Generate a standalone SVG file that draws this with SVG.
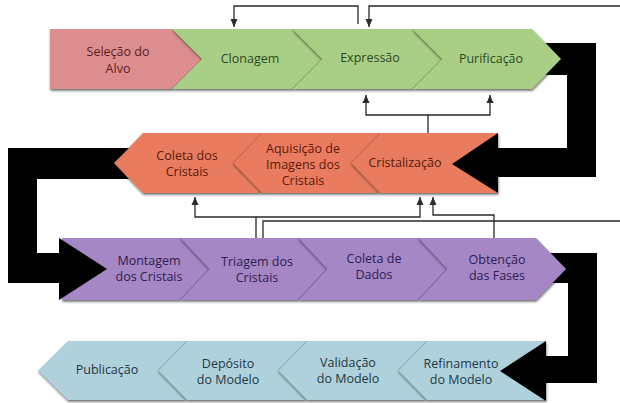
<svg xmlns="http://www.w3.org/2000/svg" width="620" height="403" viewBox="0 0 620 403">
  <defs>
    <filter id="sh" x="-5%" y="-10%" width="110%" height="130%">
      <feDropShadow dx="0.5" dy="1.8" stdDeviation="0.8" flood-color="#333" flood-opacity="0.7"/>
    </filter>
    <marker id="ah" viewBox="0 0 8 8" refX="8" refY="4" markerWidth="8" markerHeight="8" markerUnits="userSpaceOnUse" orient="auto">
      <path d="M0,0.5 L8,4 L0,7.5 z" fill="#2a2a2a"/>
    </marker>
    <style>
      .shape { filter: url(#sh); }
      .pink { fill: #dc8e8e; }
      .green { fill: #a9cf86; }
      .salmon { fill: #e97b5e; }
      .purple { fill: #a587c6; }
      .blue { fill: #aed1dc; }
      .bgreen { fill: none; stroke: #84aa60; stroke-width: 1; }
      .bsalmon { fill: none; stroke: #c8603f; stroke-width: 1; }
      .bpurple { fill: none; stroke: #7b5fa0; stroke-width: 1; }
      .bblue { fill: none; stroke: #84a9b6; stroke-width: 1; }
      text { font-family: "Open Sans", "Liberation Sans", sans-serif; font-size: 12.5px; text-anchor: middle; }
      .tpink { fill: #5e1c1c; }
      .tgreen { fill: #2c4a1c; }
      .tsalmon { fill: #5a1a0e; }
      .tpurple { fill: #2f2050; }
      .tblue { fill: #1f3844; }
      .thin { fill: none; stroke: #2a2a2a; stroke-width: 1.3; }
      .thick { fill: #000; }
    </style>
  </defs>

  <!-- Row 1 -->
  <g id="selecao-do-alvo">
    <polygon class="shape pink" points="50,29 172,29 202,59 172,89 50,89"/>
    <text class="tpink" x="118" y="56">Seleção do<tspan x="118" dy="17">Alvo</tspan></text>
  </g>
  <g id="clonagem">
    <polygon class="shape green" points="172,29 292,29 322,59 292,89 172,89 202,59"/>
    <polyline class="bgreen" points="172,29 202,59 172,89"/>
    <text class="tgreen" x="250" y="63">Clonagem</text>
  </g>
  <g id="expressao">
    <polygon class="shape green" points="292,29 412,29 442,59 412,89 292,89 322,59"/>
    <polyline class="bgreen" points="292,29 322,59 292,89"/>
    <text class="tgreen" x="370" y="62">Expressão</text>
  </g>
  <g id="purificacao">
    <polygon class="shape green" points="412,29 532,29 561,59 532,89 412,89 442,59"/>
    <polyline class="bgreen" points="412,29 442,59 412,89"/>
    <text class="tgreen" x="491" y="63">Purificação</text>
  </g>

  <!-- Row 2 -->
  <g id="coleta-dos-cristais">
    <polygon class="shape salmon" points="143,133 262,133 233,163 262,193 143,193 114,163"/>
    <text class="tsalmon" x="187" y="160">Coleta dos<tspan x="187" dy="16">Cristais</tspan></text>
  </g>
  <g id="aquisicao-de-imagens">
    <polygon class="shape salmon" points="262,133 380,133 351,163 380,193 262,193 233,163"/>
    <polyline class="bsalmon" points="262,133 233,163 262,193"/>
    <text class="tsalmon" x="303" y="153">Aquisição de<tspan x="303" dy="16">Imagens dos</tspan><tspan x="303" dy="16">Cristais</tspan></text>
  </g>
  <g id="cristalizacao">
    <polygon class="shape salmon" points="380,133 498,133 498,193 380,193 351,163"/>
    <polyline class="bsalmon" points="380,133 351,163 380,193"/>
    <text class="tsalmon" x="405" y="167">Cristalização</text>
  </g>

  <!-- Row 3 -->
  <g id="montagem-dos-cristais">
    <polygon class="shape purple" points="62,238 180,238 209,269 180,300 62,300"/>
    <text class="tpurple" x="149" y="265">Montagem<tspan x="149" dy="16">dos Cristais</tspan></text>
  </g>
  <g id="triagem-dos-cristais">
    <polygon class="shape purple" points="180,238 298,238 327,269 298,300 180,300 209,269"/>
    <polyline class="bpurple" points="180,238 209,269 180,300"/>
    <text class="tpurple" x="257" y="266">Triagem dos<tspan x="257" dy="16">Cristais</tspan></text>
  </g>
  <g id="coleta-de-dados">
    <polygon class="shape purple" points="298,238 418,238 447,269 418,300 298,300 327,269"/>
    <polyline class="bpurple" points="298,238 327,269 298,300"/>
    <text class="tpurple" x="374" y="263">Coleta de<tspan x="374" dy="16">Dados</tspan></text>
  </g>
  <g id="obtencao-das-fases">
    <polygon class="shape purple" points="418,238 536,238 566,269 536,300 418,300 447,269"/>
    <polyline class="bpurple" points="418,238 447,269 418,300"/>
    <text class="tpurple" x="497" y="264">Obtenção<tspan x="497" dy="16">das Fases</tspan></text>
  </g>

  <!-- Row 4 -->
  <g id="publicacao">
    <polygon class="shape blue" points="68,341 187,341 158,370.5 187,400 68,400 38,370.5"/>
    <text class="tblue" x="107" y="374">Publicação</text>
  </g>
  <g id="deposito-do-modelo">
    <polygon class="shape blue" points="187,341 307,341 278,370.5 307,400 187,400 158,370.5"/>
    <polyline class="bblue" points="187,341 158,370.5 187,400"/>
    <text class="tblue" x="228" y="368">Depósito<tspan x="228" dy="16">do Modelo</tspan></text>
  </g>
  <g id="validacao-do-modelo">
    <polygon class="shape blue" points="307,341 427,341 398,370.5 427,400 307,400 278,370.5"/>
    <polyline class="bblue" points="307,341 278,370.5 307,400"/>
    <text class="tblue" x="348" y="367">Validação<tspan x="348" dy="16">do Modelo</tspan></text>
  </g>
  <g id="refinamento-do-modelo">
    <polygon class="shape blue" points="427,341 546,341 546,400 427,400 398,370.5"/>
    <polyline class="bblue" points="427,341 398,370.5 427,400"/>
    <text class="tblue" x="461" y="368">Refinamento<tspan x="461" dy="16">do Modelo</tspan></text>
  </g>

  <!-- Connectors -->
  <g id="connectors">
    <!-- thick flow arrows -->
    <polygon class="thick" points="545.5,43 596,43 596,177 498,177 498,148 567,148 567,75 545.5,75 561,59"/>
    <polygon class="thick" points="498,133 498,193 452,164"/>
    <polygon class="thick" points="129,148 8,148 8,283 59,283 59,253 37,253 37,179 129,179 114,163"/>
    <polygon class="thick" points="59,238 59,300 107,269"/>
    <polygon class="thick" points="550.5,253 597,253 597,383 546,383 546,356 568,356 568,283 552.5,283 566,269"/>
    <polygon class="thick" points="546,341 546,401 500,371"/>

    <!-- thin feedback arrows, top -->
    <path class="thin" d="M358,24 V6 H234 V27" marker-end="url(#ah)"/>
    <path class="thin" d="M620,6 H369 V27" marker-end="url(#ah)"/>
    <!-- between row 1 and row 2 -->
    <path class="thin" d="M428,133 V115 H366 V95" marker-end="url(#ah)"/>
    <path class="thin" d="M428,115 H490 V95" marker-end="url(#ah)"/>
    <!-- between row 2 and row 3 -->
    <path class="thin" d="M256,238 V217 H195 V197" marker-end="url(#ah)"/>
    <path class="thin" d="M256,217 H420 V197" marker-end="url(#ah)"/>
    <path class="thin" d="M263,238 V221 H620"/>
    <path class="thin" d="M494,238 V215 H433 V197" marker-end="url(#ah)"/>
  </g>
</svg>
